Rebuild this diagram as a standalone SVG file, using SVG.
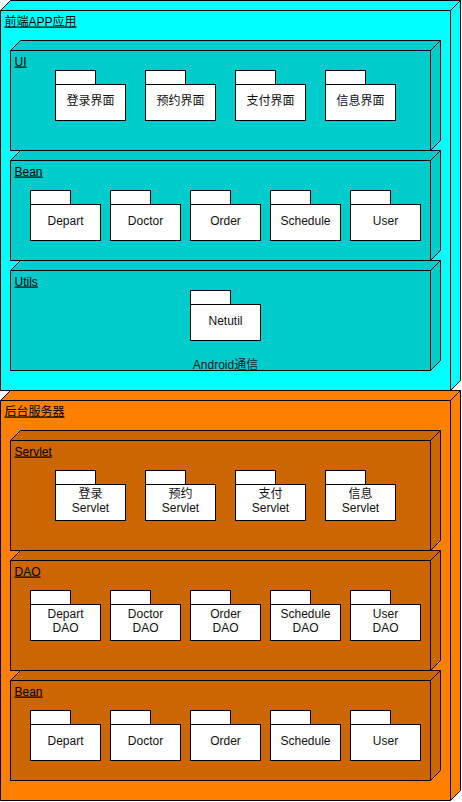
<svg xmlns="http://www.w3.org/2000/svg" xmlns:xlink="http://www.w3.org/1999/xlink" width="462" height="802" viewBox="0 0 462 802">
<style>
.ln{stroke:#000;stroke-width:1;fill:none}
.cy{fill:#00FFFF;stroke:#000;stroke-width:1}
.cy2{fill:#00CCCC;stroke:#000;stroke-width:1}
.or{fill:#FF8000;stroke:#000;stroke-width:1}
.or2{fill:#CC6600;stroke:#000;stroke-width:1}
.pk{fill:#FFFFFF;stroke:#000;stroke-width:1}
text{font-family:"Liberation Sans","Noto Sans CJK SC",Arial,sans-serif;font-size:12px;fill:#000}
.lbl{text-decoration:underline}
.pt{text-anchor:middle;fill:#111}
.mid{text-anchor:middle;fill:#1a1a1a}
</style>
<defs>
<g id="pkg">
<rect class="pk" x="0" y="0" width="40" height="14"/>
<rect class="pk" x="0" y="14" width="70" height="36"/>
</g>
</defs>
<g transform="translate(0.5,0.5)">
<g id="frontend">
<path class="cy" d="M0,10 L10,0 L460,0 L460,380 L450,390 L0,390 Z"/>
<path class="ln" d="M0,10 L450,10 L460,0 M450,10 L450,390"/>
<text class="lbl" x="4" y="25">前端APP应用</text>
</g>
<g id="ui">
<path class="cy2" d="M10,50 L20,40 L440,40 L440,140 L430,150 L10,150 Z"/>
<path class="ln" d="M10,50 L430,50 L440,40 M430,50 L430,150"/>
<text class="lbl" x="14" y="65">UI</text>
</g>
<g id="bean-front">
<path class="cy2" d="M10,160 L20,150 L440,150 L440,250 L430,260 L10,260 Z"/>
<path class="ln" d="M10,160 L430,160 L440,150 M430,160 L430,260"/>
<text class="lbl" x="14" y="175">Bean</text>
</g>
<g id="utils">
<path class="cy2" d="M10,270 L20,260 L440,260 L440,360 L430,370 L10,370 Z"/>
<path class="ln" d="M10,270 L430,270 L440,260 M430,270 L430,370"/>
<text class="lbl" x="14" y="285">Utils</text>
<text class="mid" x="225" y="368">Android通信</text>
</g>
<g id="backend">
<path class="or" d="M0,400 L10,390 L460,390 L460,790 L450,800 L0,800 Z"/>
<path class="ln" d="M0,400 L450,400 L460,390 M450,400 L450,800"/>
<text class="lbl" x="4" y="415">后台服务器</text>
</g>
<g id="servlet">
<path class="or2" d="M10,440 L20,430 L440,430 L440,540 L430,550 L10,550 Z"/>
<path class="ln" d="M10,440 L430,440 L440,430 M430,440 L430,550"/>
<text class="lbl" x="14" y="455">Servlet</text>
</g>
<g id="dao">
<path class="or2" d="M10,560 L20,550 L440,550 L440,660 L430,670 L10,670 Z"/>
<path class="ln" d="M10,560 L430,560 L440,550 M430,560 L430,670"/>
<text class="lbl" x="14" y="575">DAO</text>
</g>
<g id="bean-back">
<path class="or2" d="M10,680 L20,670 L440,670 L440,770 L430,780 L10,780 Z"/>
<path class="ln" d="M10,680 L430,680 L440,670 M430,680 L430,780"/>
<text class="lbl" x="14" y="695">Bean</text>
</g>

<g id="p-login"><use xlink:href="#pkg" x="55" y="70"/><text class="pt" x="90" y="104">登录界面</text></g>
<g id="p-book"><use xlink:href="#pkg" x="145" y="70"/><text class="pt" x="180" y="104">预约界面</text></g>
<g id="p-pay"><use xlink:href="#pkg" x="235" y="70"/><text class="pt" x="270" y="104">支付界面</text></g>
<g id="p-info"><use xlink:href="#pkg" x="325" y="70"/><text class="pt" x="360" y="104">信息界面</text></g>

<g id="p-depart"><use xlink:href="#pkg" x="30" y="190"/><text class="pt" x="65" y="224">Depart</text></g>
<g id="p-doctor"><use xlink:href="#pkg" x="110" y="190"/><text class="pt" x="145" y="224">Doctor</text></g>
<g id="p-order"><use xlink:href="#pkg" x="190" y="190"/><text class="pt" x="225" y="224">Order</text></g>
<g id="p-schedule"><use xlink:href="#pkg" x="270" y="190"/><text class="pt" x="305" y="224">Schedule</text></g>
<g id="p-user"><use xlink:href="#pkg" x="350" y="190"/><text class="pt" x="385" y="224">User</text></g>

<g id="p-netutil"><use xlink:href="#pkg" x="190" y="290"/><text class="pt" x="225" y="324">Netutil</text></g>

<g id="p-s-login"><use xlink:href="#pkg" x="55" y="470"/><text class="pt" x="90" y="497">登录</text><text class="pt" x="90" y="511">Servlet</text></g>
<g id="p-s-book"><use xlink:href="#pkg" x="145" y="470"/><text class="pt" x="180" y="497">预约</text><text class="pt" x="180" y="511">Servlet</text></g>
<g id="p-s-pay"><use xlink:href="#pkg" x="235" y="470"/><text class="pt" x="270" y="497">支付</text><text class="pt" x="270" y="511">Servlet</text></g>
<g id="p-s-info"><use xlink:href="#pkg" x="325" y="470"/><text class="pt" x="360" y="497">信息</text><text class="pt" x="360" y="511">Servlet</text></g>

<g id="p-d-depart"><use xlink:href="#pkg" x="30" y="590"/><text class="pt" x="65" y="617">Depart</text><text class="pt" x="65" y="631">DAO</text></g>
<g id="p-d-doctor"><use xlink:href="#pkg" x="110" y="590"/><text class="pt" x="145" y="617">Doctor</text><text class="pt" x="145" y="631">DAO</text></g>
<g id="p-d-order"><use xlink:href="#pkg" x="190" y="590"/><text class="pt" x="225" y="617">Order</text><text class="pt" x="225" y="631">DAO</text></g>
<g id="p-d-schedule"><use xlink:href="#pkg" x="270" y="590"/><text class="pt" x="305" y="617">Schedule</text><text class="pt" x="305" y="631">DAO</text></g>
<g id="p-d-user"><use xlink:href="#pkg" x="350" y="590"/><text class="pt" x="385" y="617">User</text><text class="pt" x="385" y="631">DAO</text></g>

<g id="p-b-depart"><use xlink:href="#pkg" x="30" y="710"/><text class="pt" x="65" y="744">Depart</text></g>
<g id="p-b-doctor"><use xlink:href="#pkg" x="110" y="710"/><text class="pt" x="145" y="744">Doctor</text></g>
<g id="p-b-order"><use xlink:href="#pkg" x="190" y="710"/><text class="pt" x="225" y="744">Order</text></g>
<g id="p-b-schedule"><use xlink:href="#pkg" x="270" y="710"/><text class="pt" x="305" y="744">Schedule</text></g>
<g id="p-b-user"><use xlink:href="#pkg" x="350" y="710"/><text class="pt" x="385" y="744">User</text></g>
<g id="connectors"/>
</g>
</svg>
